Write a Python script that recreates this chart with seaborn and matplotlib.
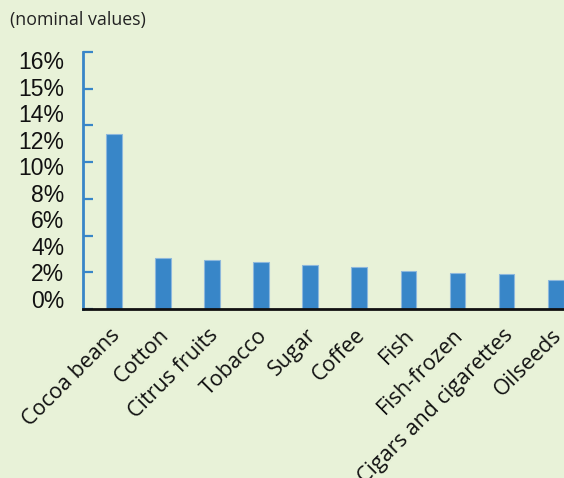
import numpy as np
import pandas as pd
import seaborn as sns
import matplotlib.pyplot as plt
from matplotlib.transforms import ScaledTranslation

# =============================================================================
# Data
# =============================================================================

categories = ['Cocoa beans', 'Cotton', 'Citrus fruits', 'Tobacco', 'Sugar',
              'Coffee', 'Fish', 'Fish-frozen', 'Cigars and cigarettes', 'Oilseeds']
values = [9.54, 2.76, 2.69, 2.56, 2.38, 2.29, 2.05, 1.96, 1.91, 1.56]
ytick_labels = ['0%', '2%', '4%', '6%', '8%', '10%', '12%', '14%', '15%', '16%']
major_ticks = [0, 2, 4, 6, 8, 10, 12, 14]

df = pd.DataFrame({'category': categories, 'value': values})

bg = '#E8F2D8'
blue = '#3886C8'

sns.set_theme(style='white')
plt.rcParams['font.family'] = ['Open Sans', 'DejaVu Sans']

fig = plt.figure(figsize=(5.64, 4.78), dpi=100, facecolor=bg)
ax = fig.add_axes([83 / 564, 1 - 309 / 478, (564 - 83) / 564, (309 - 52) / 478])
ax.set_facecolor(bg)

sns.barplot(data=df, x='category', y='value', color=blue, width=0.32,
            saturation=1, edgecolor='#8DB8DC', linewidth=0.8, ax=ax)

ax.set_xlim(-0.63, 9.17)
ax.set_ylim(0, 14)
ax.set_xlabel('')
ax.set_ylabel('')

# y axis: blue spine with inward ticks, labels on their own positions
ax.set_yticks(major_ticks)
ax.set_yticklabels([])
ax.tick_params(axis='y', which='major', direction='in', length=7, width=1.6,
               color=blue, left=True)
ax.set_yticks(np.linspace(0.55, 13.55, len(ytick_labels)), minor=True)
ax.set_yticklabels(ytick_labels, minor=True, fontsize=16.5,
                   family=['Liberation Sans', 'DejaVu Sans'], color='#111111')
ax.tick_params(axis='y', which='minor', length=0, pad=13.5)

ax.tick_params(axis='x', length=0, pad=6)
shift = ScaledTranslation(3 / 100, -6 / 100, fig.dpi_scale_trans)
for lbl in ax.get_xticklabels():
    lbl.set_rotation(45)
    lbl.set_ha('right')
    lbl.set_va('center')
    lbl.set_rotation_mode('anchor')
    lbl.set_fontsize(15.5)
    lbl.set_color('#111111')
    lbl.set_y(-0.035)
    lbl.set_transform(lbl.get_transform() + shift)

for side in ['top', 'right']:
    ax.spines[side].set_visible(False)
ax.spines['left'].set_color(blue)
ax.spines['left'].set_linewidth(2)
ax.spines['bottom'].set_color('#111111')
ax.spines['bottom'].set_linewidth(2)

fig.text(10 / 564, 1 - 20 / 478, '(nominal values)', fontsize=12.8,
         color='#222222', ha='left', va='center')

fig.savefig('out.png', dpi=100, facecolor=bg)
